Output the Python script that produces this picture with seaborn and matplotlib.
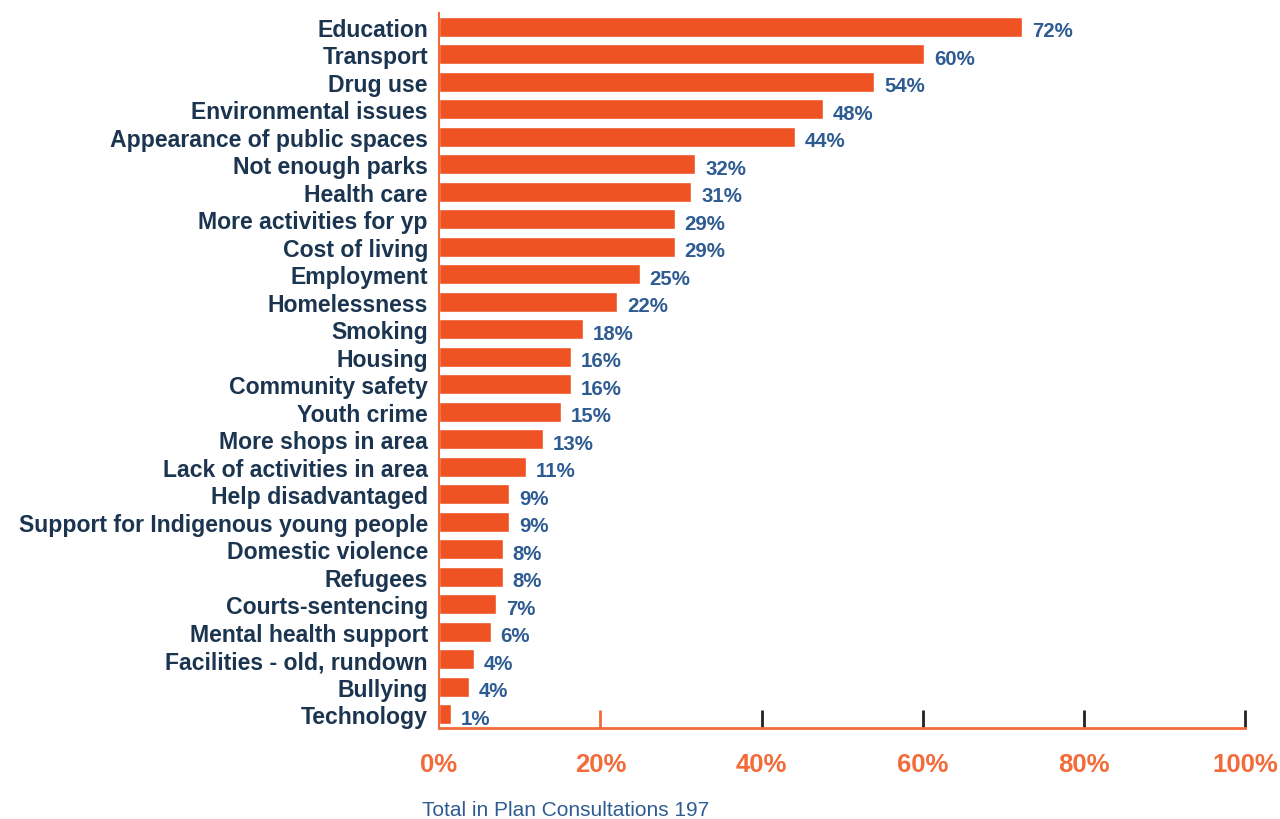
import numpy as np
import pandas as pd
import matplotlib
matplotlib.use("Agg")
import matplotlib.pyplot as plt
import seaborn as sns

# data ---------------------------------------------------------------
categories = ["Education", "Transport", "Drug use", "Environmental issues",
              "Appearance of public spaces", "Not enough parks", "Health care",
              "More activities for yp", "Cost of living", "Employment",
              "Homelessness", "Smoking", "Housing", "Community safety",
              "Youth crime", "More shops in area", "Lack of activities in area",
              "Help disadvantaged", "Support for Indigenous young people",
              "Domestic violence", "Refugees", "Courts-sentencing",
              "Mental health support", "Facilities - old, rundown",
              "Bullying", "Technology"]
percent = [72.3, 60.2, 54.0, 47.6, 44.2, 31.8, 31.3, 29.2, 29.2, 24.9,
           22.1, 17.8, 16.4, 16.4, 15.1, 12.9, 10.8, 8.7, 8.7, 7.9,
           7.9, 7.1, 6.4, 4.3, 3.7, 1.5]
value_labels = ["72%", "60%", "54%", "48%", "44%", "32%", "31%", "29%", "29%",
                "25%", "22%", "18%", "16%", "16%", "15%", "13%", "11%", "9%",
                "9%", "8%", "8%", "7%", "6%", "4%", "4%", "1%"]
x_ticks = [0, 20, 40, 60, 80, 100]
footer = "Total in Plan Consultations 197"

df = pd.DataFrame({"category": categories, "percent": percent})

bar_color = "#F05323"
tick_color = "#F26B3A"
label_color = "#1B3550"
value_color = "#2E5C92"

sns.set_style("white")
plt.rcParams['font.family'] = ['Liberation Sans', 'DejaVu Sans']

fig = plt.figure(figsize=(12.8, 8.2), dpi=100)
ax = fig.add_axes([0.343, 0.111, 0.630, 0.872])

sns.barplot(data=df, x="percent", y="category", color=bar_color,
            saturation=1, width=0.72, ax=ax)

# value labels just after the bar ends
for i, (v, lab) in enumerate(zip(percent, value_labels)):
    ax.annotate(lab, xy=(v, i), xytext=(7, -3), textcoords="offset points",
                va="center", ha="left", fontsize=14.7, fontweight="bold",
                color=value_color)

ax.set_xlim(0, 100)
ax.set_ylim(len(categories) - 0.5, -0.5)
ax.set_xticks(x_ticks)
ax.set_xticklabels([f"{t}%" for t in x_ticks], fontsize=18.5, fontweight="bold",
                   color=tick_color)
ax.set_yticks(range(len(categories)))
ax.set_yticklabels(categories, fontsize=16.6, fontweight="bold", color=label_color)
ax.set_xlabel("")
ax.set_ylabel("")

# ticks point up from the axis, labels well below
ax.tick_params(axis="x", bottom=True, direction="in", length=13, width=2,
               pad=17, colors="#222222")
for t in ax.get_xticklabels():
    t.set_color(tick_color)
ax.tick_params(axis="y", left=False, length=0, pad=8)

for side in ["top", "right"]:
    ax.spines[side].set_visible(False)
ax.spines["bottom"].set_color(tick_color)
ax.spines["bottom"].set_linewidth(2)
ax.spines["left"].set_color(tick_color)
ax.spines["left"].set_linewidth(1.5)

# first tick hidden, 20% tick in orange like the original
xt = ax.xaxis.get_major_ticks()
xt[0].tick1line.set_visible(False)
xt[1].tick1line.set_markeredgecolor(tick_color)

fig.text(0.33, 0.0, footer, fontsize=15, color=value_color,
         ha="left", va="bottom")

plt.savefig("out.png", dpi=100)
